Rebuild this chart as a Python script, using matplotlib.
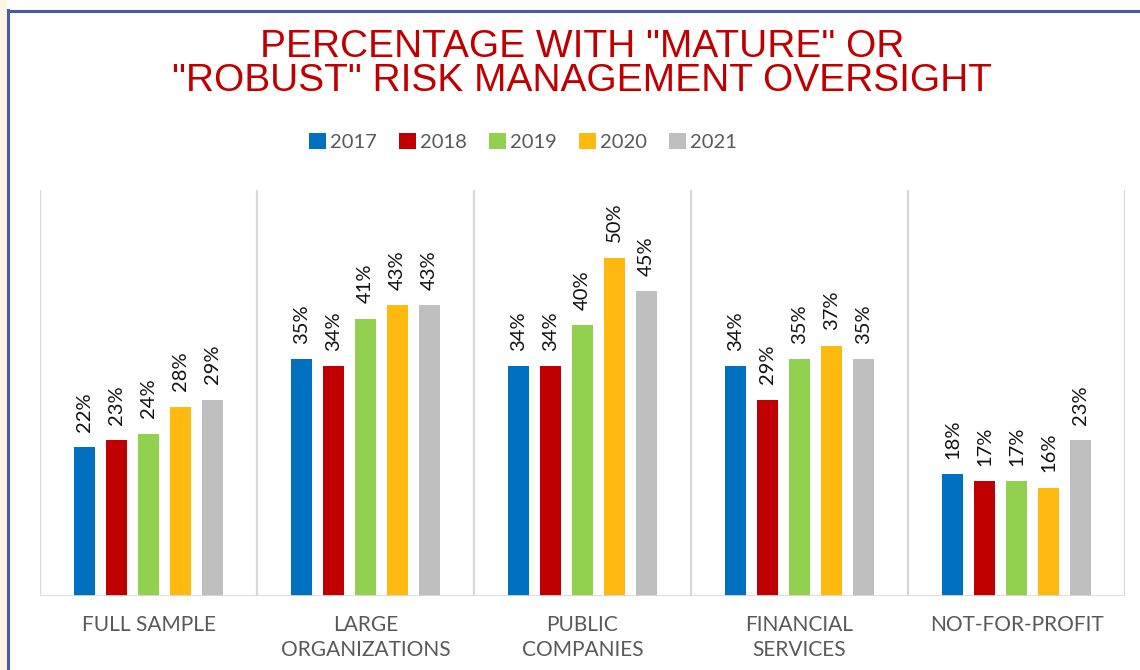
import matplotlib
matplotlib.use("Agg")
import matplotlib.pyplot as plt
from matplotlib.patches import Rectangle
from matplotlib.lines import Line2D
import numpy as np

categories = ["FULL SAMPLE", "LARGE\nORGANIZATIONS", "PUBLIC\nCOMPANIES", "FINANCIAL\nSERVICES", "NOT-FOR-PROFIT"]
years = ["2017", "2018", "2019", "2020", "2021"]
values = {
    "2017": [22, 35, 34, 34, 18],
    "2018": [23, 34, 34, 29, 17],
    "2019": [24, 41, 40, 35, 17],
    "2020": [28, 43, 50, 37, 16],
    "2021": [29, 43, 45, 35, 23],
}
colors = ["#0070C0", "#C00000", "#92D050", "#FFB90F", "#BFBFBF"]

W, H = 1140, 670
fig = plt.figure(figsize=(W / 100, H / 100), dpi=100)
fig.patch.set_facecolor("white")

# left cream strip and blue border
fig.patches.append(Rectangle((0, 0), 7 / W, 1, transform=fig.transFigure, facecolor="#FEF5E6", edgecolor="none", zorder=0))
fig.add_artist(Line2D([8 / W, 8 / W], [0, 1 - 10 / H], transform=fig.transFigure, color="#4A5BA8", lw=2.2))
fig.add_artist(Line2D([8 / W, 1], [1 - 10.5 / H, 1 - 10.5 / H], transform=fig.transFigure, color="#4A5BA8", lw=2.2))

ax = fig.add_axes([40 / W, (H - 596) / H, (1125 - 40) / W, (596 - 190) / H])
ax.set_xlim(-0.5, len(categories) - 0.5)
ax.set_ylim(0, 60)
for s in ax.spines.values():
    s.set_visible(False)
ax.set_yticks([])

x = np.arange(len(categories))
step = 0.1475
bw = 0.097
for i, (yr, c) in enumerate(zip(years, colors)):
    offs = (i - 2) * step
    ax.bar(x + offs, values[yr], width=bw, color=c, zorder=2, label=yr)
    for xi, v in zip(x + offs, values[yr]):
        ax.annotate(f"{v}%", (xi, v), xytext=(0, 11), textcoords="offset points",
                    rotation=90, ha="center", va="bottom", fontsize=14.5,
                    family="Lato", color="#111111")

for b in np.arange(-0.5, len(categories), 1.0):
    ax.axvline(b, color="#D9D9D9", lw=1.6, zorder=1)
ax.axhline(0, color="#D9D9D9", lw=2, zorder=3)

ax.set_xticks(x)
ax.set_xticklabels(categories, fontsize=15, family="Lato", color="#595959", linespacing=1.3)
ax.tick_params(axis="x", length=0, pad=14)

fig.text((40 + 1125) / 2 / W, 1 - 64 / H, "PERCENTAGE WITH \"MATURE\" OR\n\"ROBUST\" RISK MANAGEMENT OVERSIGHT",
         ha="center", va="center", fontsize=28, family="Liberation Sans", color="#C00000", linespacing=0.95)

leg = fig.legend(loc="center", bbox_to_anchor=(523 / W, 1 - 142 / H), ncol=5, frameon=False,
                 handlelength=0.85, handleheight=0.85, handletextpad=0.2, columnspacing=1.1,
                 prop={"family": "Lato", "size": 14.5})
for t in leg.get_texts():
    t.set_color("#595959")

fig.savefig("out.png", dpi=100)
